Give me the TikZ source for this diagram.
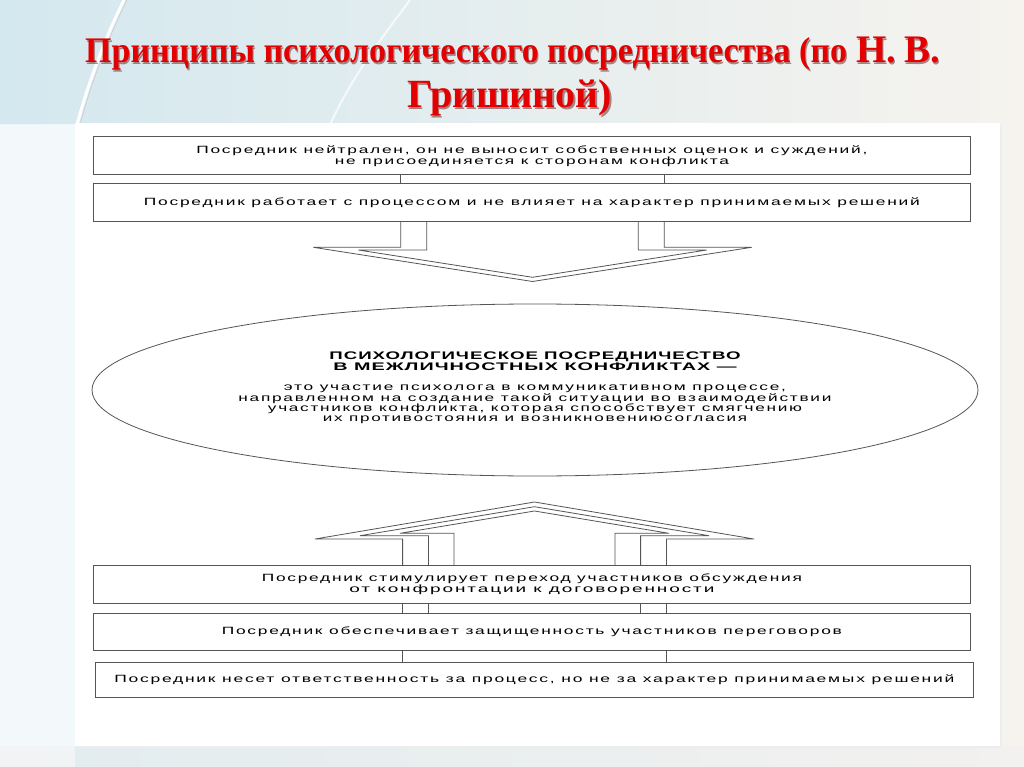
\documentclass[tikz,border=0pt]{standalone}
\usepackage{fontspec}
\usepackage{graphicx}
\setmainfont{Liberation Serif}
\newfontfamily\dfont[LetterSpace=10]{Liberation Sans}
\newfontfamily\dboldfont[LetterSpace=5]{Liberation Sans}
\usetikzlibrary{shapes.geometric,calc}
\newcommand\fl[2]{\resizebox{#1pt}{\height}{#2}}
\definecolor{titlered}{RGB}{228,0,0}
\definecolor{shadowc}{RGB}{120,60,60}
\definecolor{bgleft}{RGB}{212,232,239}
\definecolor{bgright}{RGB}{246,243,238}
\definecolor{linec}{RGB}{85,85,85}
\newcommand\titleA{\fl{762}{\fontsize{36}{36}\selectfont Принципы психологического посредничества (по}\hspace{9pt}\fontsize{39}{39}\selectfont Н.\hspace{8pt}В.}
\begin{document}
\begin{tikzpicture}[x=1pt,y=-1pt,
  title/.style={inner sep=0pt, font=\bfseries, anchor=base west},
  pbox/.style={draw=linec, line width=0.8pt, fill=white, minimum width=877pt, inner sep=0pt, anchor=north west, align=center, font=\dfont\fontsize{10.5}{10.7}\selectfont},
  conn/.style={draw=linec, line width=0.8pt},
  arrowline/.style={draw=linec, line width=0.8pt, line join=miter},
  deftxt/.style={align=center, inner sep=0pt}
]
\useasboundingbox (0,0) rectangle (1024,767);
% background
\shade[left color=bgleft, right color=bgright] (0,0) rectangle (1024,767);
\shade[top color=bgleft!0!white, bottom color=white, opacity=0.6] (0,125) rectangle (75,767);
\fill[white, opacity=0.35] (0,125) rectangle (75,767);
\fill[black!6, opacity=0.5] (0,746) rectangle (1024,767);
\draw[white, line width=3pt] (124,0) .. controls (104,40) and (86,90) .. (77,125);
\draw[black!22, line width=0.5pt] (127,0) .. controls (107,40) and (89,90) .. (80,125);
\draw[white, line width=2pt, opacity=0.7] (410,0) .. controls (380,40) and (350,80) .. (330,125);
% panel
\fill[black!7] (77,125) rectangle (1002,748);
\fill[white] (75,123) rectangle (1000,746);
% title
\node[title, text=shadowc, opacity=0.6] at (86.2,64.2) {\titleA};
\node[title, text=titlered] (t1) at (85,63) {\titleA};
\node[title, anchor=base, text=shadowc, opacity=0.6] at (511.2,109.2) {\fontsize{40}{40}\selectfont Гришиной)};
\node[title, anchor=base, text=titlered] (t2) at (510,108) {\fontsize{40}{40}\selectfont Гришиной)};
% upper boxes
\node[pbox, minimum height=38pt] (b1) at (93,136.5) {\fl{671}{Посредник нейтрален, он не выносит собственных оценок и суждений,}\\\fl{394}{не присоединяется к сторонам конфликта}};
\node[pbox, minimum height=37.7pt] (b2) at (93,183) {\fl{776}{Посредник работает с процессом и не влияет на характер принимаемых решений}};
\draw[conn] ([xshift=307.7pt]b1.south west) -- ([xshift=307.7pt]b2.north west);
\draw[conn] ([xshift=571.3pt]b1.south west) -- ([xshift=571.3pt]b2.north west);
% ellipse
\node[ellipse, draw=linec, line width=0.8pt, minimum width=886pt, minimum height=172pt, inner sep=0pt, fill=white] (def) at (535,390) {};
\node[deftxt, font=\dboldfont\bfseries\fontsize{11}{11}\selectfont] (defhead) at (535,361) {\fl{411}{ПСИХОЛОГИЧЕСКОЕ ПОСРЕДНИЧЕСТВО}\\\fl{403}{В МЕЖЛИЧНОСТНЫХ КОНФЛИКТАХ —}};
\node[deftxt, font=\dfont\fontsize{10.5}{10.4}\selectfont] (defbody) at (535,404.5) {\fl{502}{это участие психолога в коммуникативном процессе,}\\\fl{593}{направленном на создание такой ситуации во взаимодействии}\\\fl{534}{участников конфликта, которая способствует смягчению}\\\fl{424}{их противостояния и возникновениюсогласия}};
% down arrow (double outline)
\draw[arrowline] (400.7,0 |- b2.south) -- (400.7,247.3) -- (313.3,247.3) -- (532.5,281.5) -- (751.7,247.3) -- (664.3,247.3) -- (664.3,0 |- b2.south);
\draw[arrowline] (426.7,0 |- b2.south) -- (426.7,250) -- (358.3,250) -- (532.5,277.3) -- (706.7,250) -- (638.3,250) -- (638.3,0 |- b2.south);
% lower boxes
\node[pbox, minimum height=37.5pt] (b4) at (93,565) {\fl{540}{Посредник стимулирует переход участников обсуждения}\\\fl{365}{от конфронтации к договоренности}};
\node[pbox, minimum height=37.5pt] (b5) at (93,612.5) {\fl{620}{Посредник обеспечивает защищенность участников переговоров}};
\node[pbox, minimum height=35pt, minimum width=878pt] (b6) at (95,662) {\fl{840}{Посредник несет ответственность за процесс, но не за характер принимаемых решений}};
% up arrow (triple outline)
\draw[arrowline] (402.6,0 |- b4.north) -- (402.6,539) -- (315,539) -- (534.5,502) -- (754,539) -- (666.4,539) -- (666.4,0 |- b4.north);
\draw[arrowline] (428.4,0 |- b4.north) -- (428.4,535.7) -- (360,535.7) -- (534.5,506.7) -- (709,535.7) -- (640.6,535.7) -- (640.6,0 |- b4.north);
\draw[arrowline] (454,0 |- b4.north) -- (454,533.3) -- (400,533.3) -- (534.5,511) -- (669,533.3) -- (615,533.3) -- (615,0 |- b4.north);
% connectors between lower boxes
\draw[conn] ([xshift=309.6pt]b4.south west) -- ([xshift=309.6pt]b5.north west);
\draw[conn] ([xshift=335.4pt]b4.south west) -- ([xshift=335.4pt]b5.north west);
\draw[conn] ([xshift=547.6pt]b4.south west) -- ([xshift=547.6pt]b5.north west);
\draw[conn] ([xshift=573.4pt]b4.south west) -- ([xshift=573.4pt]b5.north west);
\draw[conn] ([xshift=309.6pt]b5.south west) -- ([xshift=309.6pt]b5.south west |- b6.north);
\draw[conn] ([xshift=573.4pt]b5.south west) -- ([xshift=573.4pt]b5.south west |- b6.north);
\end{tikzpicture}
\end{document}
